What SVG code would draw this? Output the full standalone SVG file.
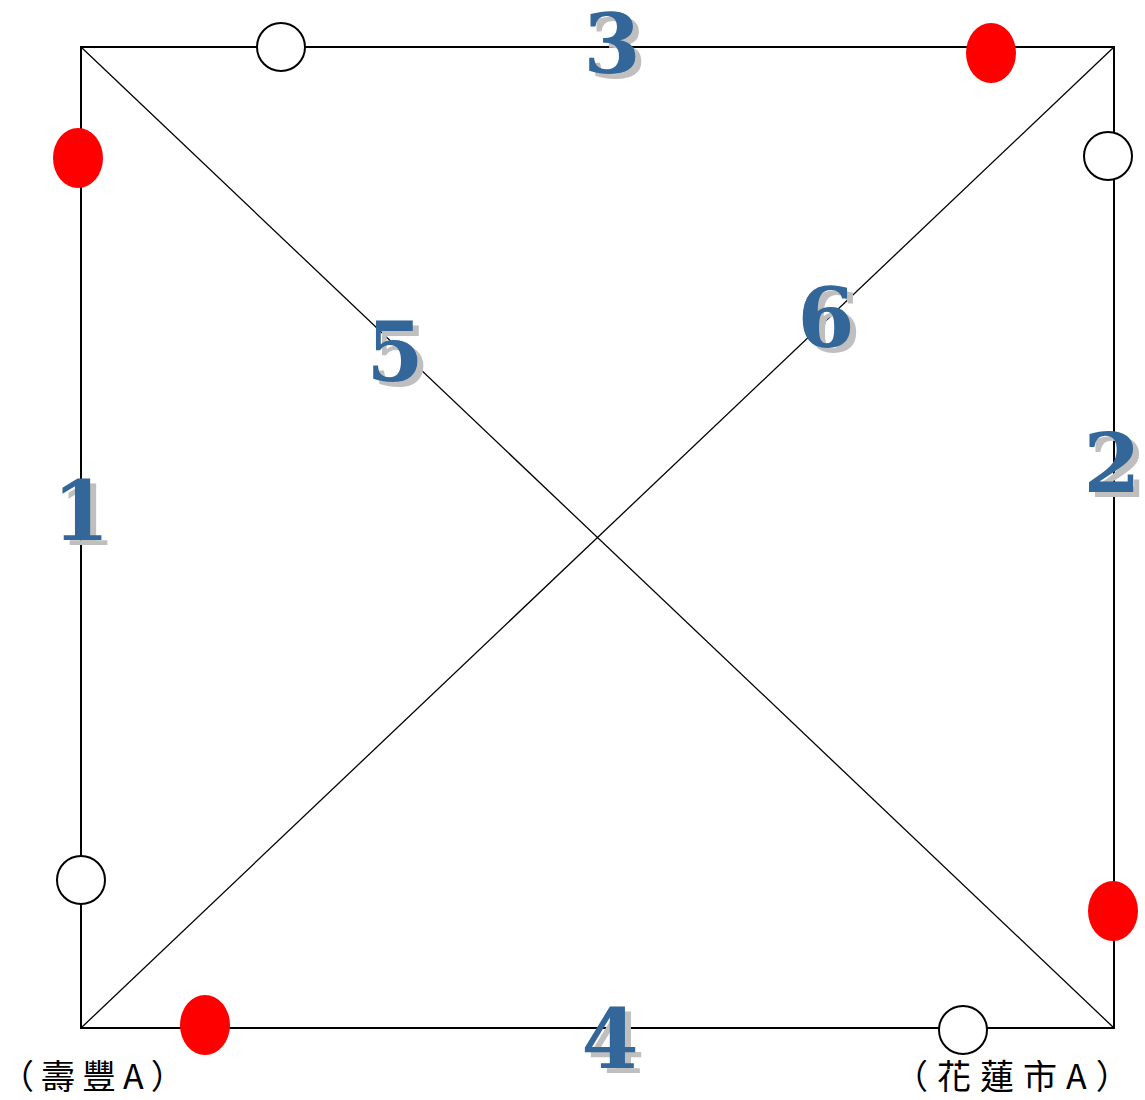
<svg xmlns="http://www.w3.org/2000/svg" width="1145" height="1100" viewBox="0 0 1145 1100">
<style>
.edge{stroke:#000;fill:none}
.w{fill:#fff;stroke:#000;stroke-width:2}
.r{fill:#f00;stroke:none}
.num{font-family:"DejaVu Serif",serif;font-weight:bold;font-size:82px;text-anchor:middle}
.sh{fill:#bfbfbf}
.fg{fill:#336699}
.lbl{font-family:"Noto Sans CJK TC",sans-serif;font-size:34px;fill:#000}
</style>
<rect width="1145" height="1100" fill="#fff"/>
<g id="connectors">
<rect class="edge" x="81" y="47" width="1033" height="981" stroke-width="2"/>
<line class="edge" x1="81" y1="47" x2="1114" y2="1028" stroke-width="1.3"/>
<line class="edge" x1="81" y1="1028" x2="1114" y2="47" stroke-width="1.3"/>
</g>
<g id="n1"><ellipse class="w" cx="281" cy="47" rx="24" ry="24"/></g>
<g id="n2"><ellipse class="r" cx="991" cy="53" rx="25" ry="30"/></g>
<g id="n3"><ellipse class="r" cx="78" cy="158" rx="25" ry="30"/></g>
<g id="n4"><ellipse class="w" cx="1108" cy="156" rx="24" ry="24"/></g>
<g id="n5"><ellipse class="w" cx="81" cy="880" rx="24" ry="24"/></g>
<g id="n6"><ellipse class="r" cx="1113" cy="911" rx="25" ry="30"/></g>
<g id="n7"><ellipse class="r" cx="205" cy="1025" rx="25" ry="30"/></g>
<g id="n8"><ellipse class="w" cx="963" cy="1030" rx="24" ry="24"/></g>
<g id="labels">
<text class="num sh" x="87" y="545">1</text><text class="num fg" x="81" y="540">1</text>
<text class="num sh" x="1118" y="497">2</text><text class="num fg" x="1112" y="492">2</text>
<text class="num sh" x="618" y="78">3</text><text class="num fg" x="612" y="73">3</text>
<text class="num sh" x="616" y="1073">4</text><text class="num fg" x="610" y="1068">4</text>
<text class="num sh" x="401" y="386">5</text><text class="num fg" x="395" y="381">5</text>
<text class="num sh" x="832" y="352">6</text><text class="num fg" x="826" y="347">6</text>
<text class="lbl" x="0" y="1089" letter-spacing="7">（壽豐A）</text>
<text class="lbl" x="894" y="1089" letter-spacing="9">（花蓮市A）</text>
</g>
</svg>
